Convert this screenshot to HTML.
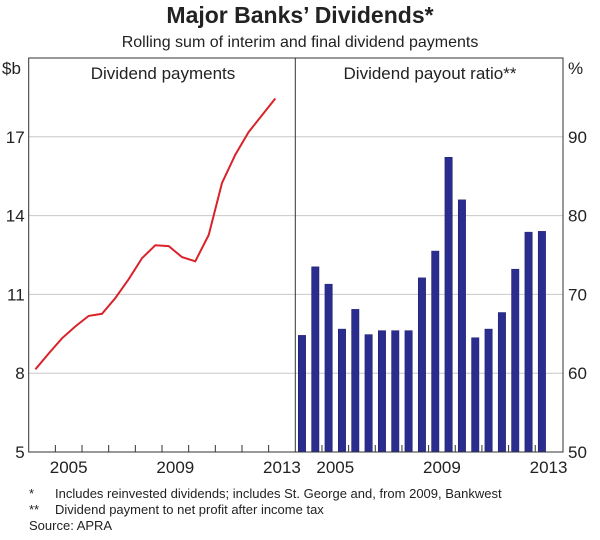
<!DOCTYPE html>
<html><head><meta charset="utf-8"><style>
body{margin:0;background:#fff;}
svg text{font-family:"Liberation Sans",Arial,sans-serif;fill:#222;}
</style></head><body>
<svg id="c" width="600" height="535" xmlns="http://www.w3.org/2000/svg">
<text x="300" y="23" text-anchor="middle" font-size="23" font-weight="bold">Major Banks’ Dividends*</text>
<text x="300" y="47" text-anchor="middle" font-size="16">Rolling sum of interim and final dividend payments</text>
<g id="grid"></g><g id="marks"></g><g id="axes"></g>
<text x="163" y="79" text-anchor="middle" font-size="17">Dividend payments</text>
<text x="430" y="79" text-anchor="middle" font-size="17">Dividend payout ratio**</text>
<text x="2" y="74" font-size="17">$b</text>
<text x="568" y="74" font-size="17">%</text>
<g><text x="29" y="498" font-size="13">*</text><text x="55" y="498" font-size="13">Includes reinvested dividends; includes St. George and, from 2009, Bankwest</text></g>
<g><text x="29" y="514" font-size="13">**</text><text x="55" y="514" font-size="13">Dividend payment to net profit after income tax</text></g>
<text x="29" y="530" font-size="13">Source: APRA</text>
</svg>
<script>
const lineValues=[8.15,8.75,9.33,9.78,10.18,10.26,10.86,11.58,12.38,12.87,12.84,12.42,12.26,13.26,15.24,16.32,17.18,17.82,18.46];
const barValues=[64.8,73.5,71.3,65.6,68.1,64.9,65.4,65.4,65.4,72.1,75.5,87.4,82.0,64.5,65.6,67.7,73.2,77.9,78.0];
const leftTicks=[5,8,11,14,17];
const rightTicks=[50,60,70,80,90];
const yearLabels=[2005,2009,2013];
const NS="http://www.w3.org/2000/svg";
const L=28.7,D=295.3,R=563,T=58,B=452;
const yw=(D-L)/10;
const xL=t=>L+(t-2004)*yw;
const xR=t=>D+(t-2004)*yw;
const yL=v=>B-(v-5)/15*(B-T);
const yR=v=>B-(v-50)/50*(B-T);
const tAt=i=>2004.25+i*0.5;
function mk(tag,attrs,parent){const e=document.createElementNS(NS,tag);for(const k in attrs)e.setAttribute(k,attrs[k]);document.getElementById(parent).appendChild(e);return e;}
leftTicks.forEach((v,i)=>{
 if(i>0){const g=mk('line',{x1:L,x2:R,y1:yL(v),y2:yL(v),stroke:'#c8c8c8','stroke-width':1},'grid');
 
 }
 const t=mk('text',{x:L-4,y:yL(v)+6,'text-anchor':'end','font-size':17},'axes');t.textContent=v;
 
 
});
rightTicks.forEach(v=>{
 const t=mk('text',{x:R+5,y:yR(v)+6,'font-size':17},'axes');t.textContent=v;
 
 
});
let pts=lineValues.map((v,i)=>xL(tAt(i)).toFixed(1)+','+yL(v).toFixed(1)).join(' ');
const pl=mk('polyline',{points:pts,fill:'none',stroke:'#d9232a','stroke-width':2},'marks');


barValues.forEach((v,i)=>{
 const c=xR(tAt(i)),w=7.4;
 const b=mk('rect',{x:c-w/2,y:yR(v),width:w,height:B-yR(v),fill:'#2b2d8e',stroke:'#1a1a6a','stroke-width':0.5},'marks');
 
 
});
for(let y=2005;y<=2013;y++){
 mk('line',{x1:xL(y),x2:xL(y),y1:B,y2:B-7,stroke:'#333'},'axes');
 mk('line',{x1:xR(y),x2:xR(y),y1:B,y2:B-7,stroke:'#333'},'axes');
}
yearLabels.forEach(y=>{
 [xL,xR].forEach(f=>{
  const t=mk('text',{x:f(y+0.5),y:B+21,'text-anchor':'middle','font-size':17},'axes');t.textContent=y;
  
  
 });
});
const fr=mk('rect',{x:L,y:T,width:R-L,height:B-T,fill:'none',stroke:'#333','stroke-width':1},'axes');


const dv=mk('line',{x1:D,x2:D,y1:T,y2:B,stroke:'#333'},'axes');


</script>
</body></html>
